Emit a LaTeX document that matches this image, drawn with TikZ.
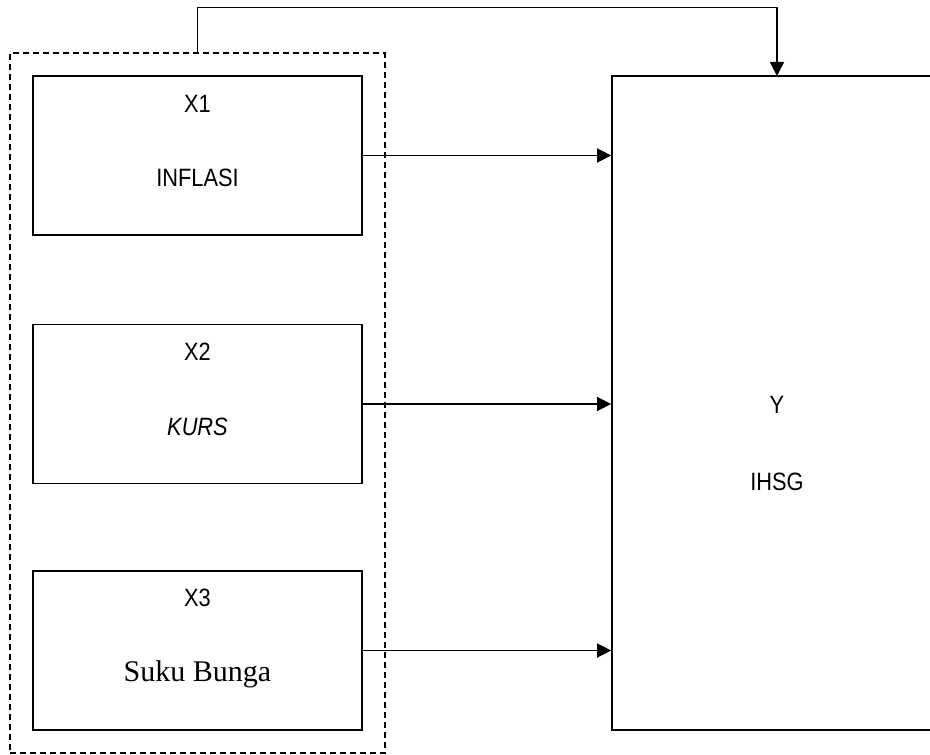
\documentclass[tikz,border=0pt]{standalone}
\usepackage{fontspec}
\setmainfont{Liberation Serif}
\newfontfamily\narrowsans[FakeStretch=0.87]{Liberation Sans}
\usepackage{tikz}
\usetikzlibrary{arrows.meta,positioning,calc,fit}

\begin{document}
\begin{tikzpicture}[
    x=0.75pt, y=-0.75pt,
    box/.style={rectangle, draw=black, line width=1.3pt, inner sep=0pt,
                 minimum width=246.75pt, minimum height=119.25pt},
    group/.style={rectangle, draw=black, line width=1pt,
                 dash pattern=on 4.5pt off 3pt, inner sep=16.5pt},
    lbl/.style={anchor=base, inner sep=0pt, font=\narrowsans\fontsize{18.8pt}{22pt}\selectfont},
    serif/.style={anchor=base, inner sep=0pt, font=\fontsize{22.5pt}{26pt}\selectfont},
    arrow/.style={-{Triangle[length=10.5pt,width=10.5pt]}, line width=1.1pt}
]
\useasboundingbox (0,0) rectangle (930,755);

% independent variables
\node[box] (x1) at (197.5,155.5) {};
\node[box] (x2) at (197.5,404) {};
\node[box] (x3) at (197.5,650.5) {};
\node[group, fit=(x1) (x3)] (grp) {};

\node[lbl] (x1code) at ($(x1.north)+(0,37)$) {X1};
\node[lbl] (x1name) at ($(x1.north)+(0,111)$) {INFLASI};
\node[lbl] (x2code) at ($(x2.north)+(0,36.5)$) {X2};
\node[lbl] (x2name) at ($(x2.north)+(0,111.5)$) {\itshape KURS};
\node[lbl] (x3code) at ($(x3.north)+(0,36.5)$) {X3};
\node[serif] (x3name) at ($(x3.north)+(0,111.5)$) {Suku Bunga};

% dependent variable
\node[box, minimum width=291pt, minimum height=490.5pt] (yb) at (806,403) {};
\node[lbl] (ycode) at (777,413) {Y};
\node[lbl] (yname) at (777,490) {IHSG};
\coordinate (ytop) at (777,76);

\draw[arrow] (x1.east) -- (x1.east -| yb.west);
\draw[arrow] (x2.east) -- (x2.east -| yb.west);
\draw[arrow] (x3.east) -- (x3.east -| yb.west);
\draw[arrow] (grp.north) -- ++(0,-45) -| (ytop);
\end{tikzpicture}
\end{document}
